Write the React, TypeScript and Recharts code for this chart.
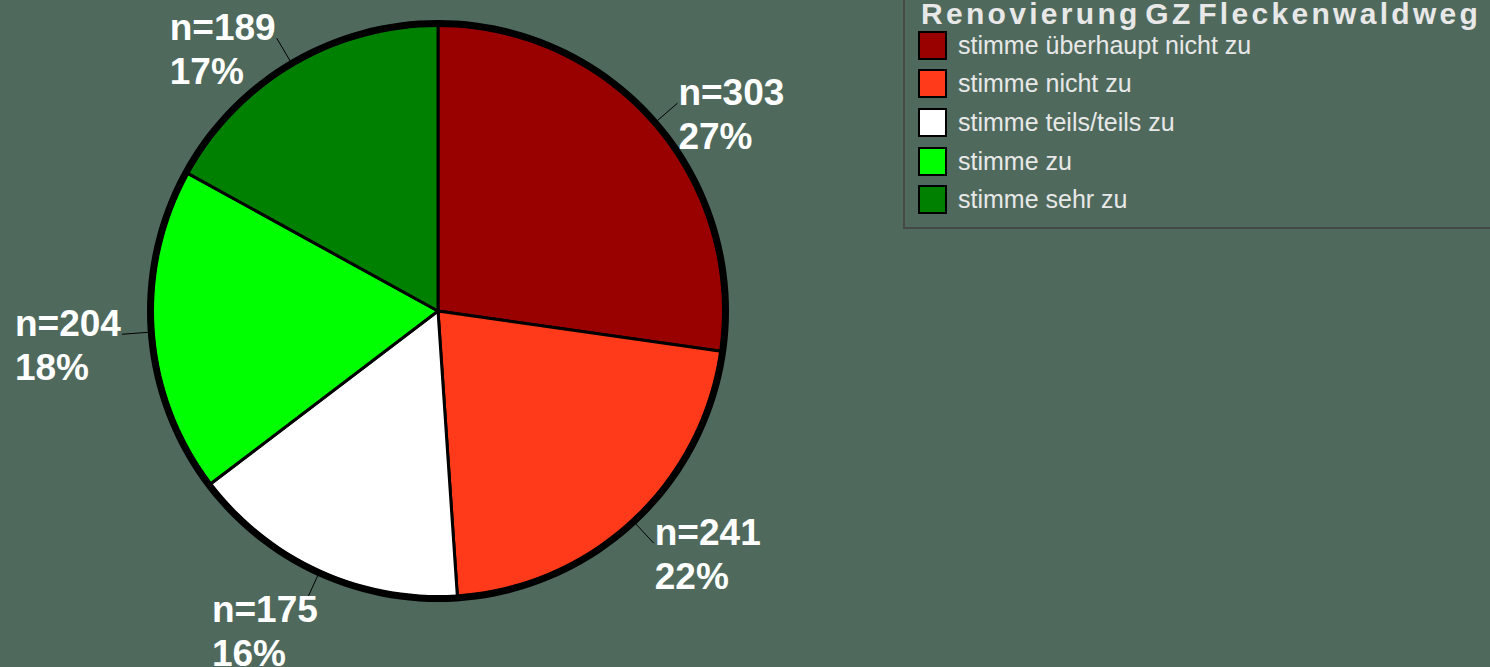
import { PieChart, Pie, Cell } from "recharts";

const categories = [
  "stimme überhaupt nicht zu",
  "stimme nicht zu",
  "stimme teils/teils zu",
  "stimme zu",
  "stimme sehr zu",
];
const counts = [303, 241, 175, 204, 189];
const colors = ["#990000", "#ff3a1a", "#ffffff", "#00ff00", "#008000"];
const chartTitle = "Renovierung GZ Fleckenwaldweg";

const data = categories.map((name, i) => ({ name, value: counts[i] }));
const total = counts.reduce((a, b) => a + b, 0);
const ringData = [{ name: "rand", value: total }];

const BG = "#4f6a5d";
const RADIAN = Math.PI / 180;
const LABEL_SIZE = 37;

// rough Arial bold advance widths, used to left-align the two label lines
const charW: Record<string, number> = { n: 0.611, "=": 0.584, "%": 0.889 };
const textWidth = (s: string) =>
  s.split("").reduce((w, ch) => w + (charW[ch] ?? 0.556), 0) * LABEL_SIZE;

const renderLabel = (props: any) => {
  const { cx, cy, midAngle, outerRadius, value, percent } = props;
  const cos = Math.cos(-midAngle * RADIAN);
  const sin = Math.sin(-midAngle * RADIAN);
  const r0 = outerRadius + 3;
  const r1 = outerRadius + 31;
  const x0 = cx + r0 * cos;
  const y0 = cy + r0 * sin;
  const x1 = cx + r1 * cos;
  const y1 = cy + r1 * sin;
  const right = x1 > cx;
  const bottom = sin > 0.85;
  // labels at the bottom sit a bit lower and closer to the middle
  const baseY = bottom ? y1 + 22 : y1 + 2;
  const top = `n=${value}`;
  const edge = bottom ? x1 + 12 : x1;
  const tx = right ? edge + 1 : edge - 1 - textWidth(top);
  return (
    <g>
      <line x1={x0} y1={y0} x2={x1} y2={y1} stroke="#000" strokeWidth={1} />
      <text
        x={tx}
        y={baseY}
        fill="#fff"
        textAnchor="start"
        fontFamily="'Liberation Sans', Arial, sans-serif"
        fontWeight="bold"
        fontSize={LABEL_SIZE}
      >
        <tspan x={tx} dy={0}>{top}</tspan>
        <tspan x={tx} dy={44}>{Math.round(percent * 100)}%</tspan>
      </text>
    </g>
  );
};

const ChartLegend = () => (
  <div
    style={{
      position: "absolute",
      left: 903,
      top: -20,
      width: 640,
      height: 249,
      border: "2px solid #454a47",
      boxSizing: "border-box",
      fontFamily: "'Liberation Sans', Arial, sans-serif",
      color: "#e8e8e8",
    }}
  >
    <div
      style={{
        position: "absolute",
        left: 16,
        top: 15,
        fontSize: 30,
        fontWeight: "bold",
        letterSpacing: 3.3,
        wordSpacing: -7,
        whiteSpace: "nowrap",
        lineHeight: "34px",
      }}
    >
      {chartTitle}
    </div>
    {categories.map((c, i) => (
      <div
        key={c}
        style={{
          position: "absolute",
          left: 13,
          top: 48 + i * 38.7,
          height: 30,
          display: "flex",
          alignItems: "center",
          whiteSpace: "nowrap",
        }}
      >
        <div
          style={{
            width: 29,
            height: 29,
            background: colors[i],
            border: "2px solid #000",
            boxSizing: "border-box",
          }}
        />
        <span style={{ marginLeft: 11, fontSize: 25 }}>{c}</span>
      </div>
    ))}
  </div>
);

export default function App() {
  return (
    <div
      style={{
        position: "absolute",
        left: 0,
        top: 0,
        width: 1490,
        height: 667,
        background: BG,
        overflow: "hidden",
      }}
    >
      <PieChart width={1490} height={667} margin={{ top: 0, right: 0, bottom: 0, left: 0 }}>
        <Pie
          data={data}
          dataKey="value"
          cx={438}
          cy={311}
          outerRadius={286}
          startAngle={90}
          endAngle={-270}
          stroke="#000"
          strokeWidth={3}
          label={renderLabel}
          labelLine={false}
          isAnimationActive={false}
        >
          {data.map((d, i) => (
            <Cell key={d.name} fill={colors[i]} />
          ))}
        </Pie>
        <Pie
          data={ringData}
          dataKey="value"
          cx={438}
          cy={311}
          innerRadius={284}
          outerRadius={291}
          startAngle={90}
          endAngle={-270}
          fill="#000"
          stroke="none"
          isAnimationActive={false}
        />
      </PieChart>
      <ChartLegend />
    </div>
  );
}
